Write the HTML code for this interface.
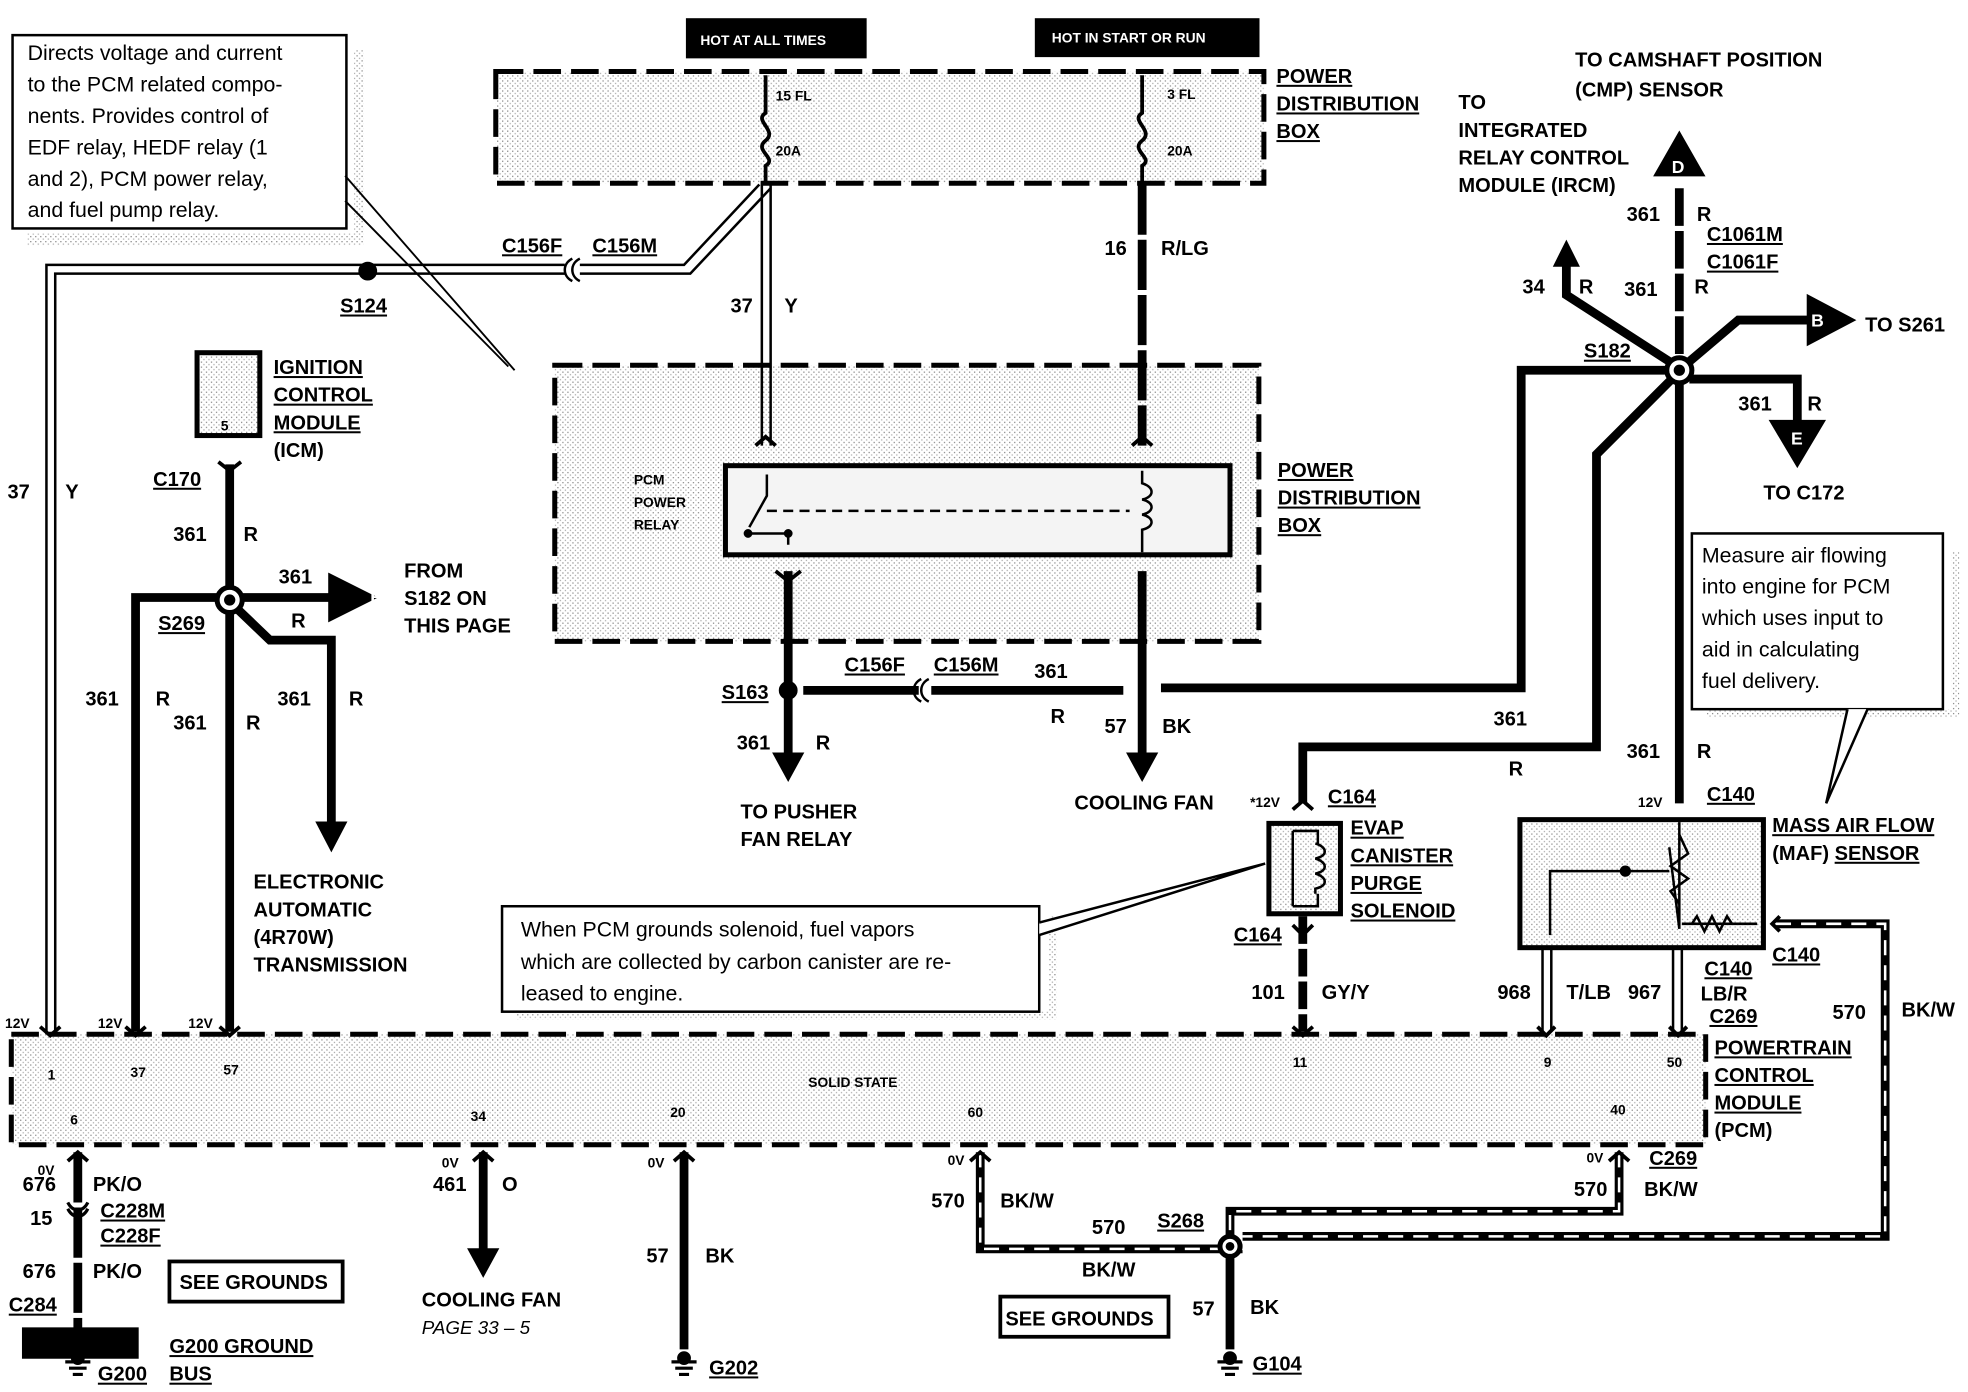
<!DOCTYPE html>
<html><head><meta charset="utf-8"><style>
html,body{margin:0;padding:0;background:#fff}
svg{display:block}
text{font-family:"Liberation Sans",Arial,sans-serif;font-weight:bold;fill:#000}
.l{font-size:16px}
.s{font-size:11px}
.n{font-weight:normal;font-size:17px}
.u{text-decoration:underline}
</style></head><body>
<svg width="1968" height="1392" viewBox="0 0 1568 1109" preserveAspectRatio="none" xmlns="http://www.w3.org/2000/svg">
<defs>
<pattern id="dot" width="4" height="4" patternUnits="userSpaceOnUse"><rect width="4" height="4" fill="#fff"/><rect width="1" height="1" fill="#888"/><rect x="2" y="2" width="1" height="1" fill="#aaa"/></pattern>
</defs>
<g fill="none" stroke="#000">
<path d="M22,186 L282,186 L282,40 L290,40 L290,196 L22,196Z" fill="url(#dot)" stroke="none"/>
<rect x="10" y="28" width="266" height="154" fill="#fff" stroke-width="2"/>
<path d="M275,140 L410,295 M275,160 L405,292" stroke-width="1.5"/>
<rect x="547" y="15" width="143" height="31" fill="#000"/>
<rect x="825" y="15" width="178" height="30" fill="#000"/>
<rect x="395" y="57" width="612" height="89" fill="url(#dot)" stroke-width="4" stroke-dasharray="22,8"/>
<rect x="442" y="291" width="561" height="220" fill="url(#dot)" stroke-width="4" stroke-dasharray="22,8"/>
<rect x="578" y="371" width="402" height="71" fill="#f4f4f4" stroke-width="4"/>
<path d="M610,60 L610,90 C600,96 620,104 610,112 C600,120 620,126 610,132 L610,147" stroke-width="3"/>
<path d="M910,60 L910,90 C900,96 920,104 910,112 C900,120 920,126 910,132 L910,147" stroke-width="3"/>
<path d="M607,147 L607,355 M614,147 L614,355" stroke-width="2"/>
<path d="M605,147 L545,211 L462,211 M614,150 L550,218 L462,218" stroke-width="2"/>
<path d="M450,211 L37,211 L37,825 M450,218 L44,218 L44,825" stroke-width="2"/>
<path d="M462,206 C454,210 454,220 462,224 M456,206 C448,210 448,220 456,224" stroke-width="2"/>
<circle cx="293" cy="216" r="7" fill="#000"/>
<path d="M910,147 L910,355" stroke-width="7" stroke-dasharray="40,4"/>
<path d="M602,355 L610,348 L618,355 M902,355 L910,348 L918,355" stroke-width="3"/>
<path d="M611,378 L611,395 L597,420 M596,425 L628,425 L628,434" stroke-width="2"/>
<path d="M611,407 L900,407" stroke-width="2" stroke-dasharray="8,5"/>
<path d="M910,375 L910,385 C920,388 920,396 910,398 C920,400 920,408 910,410 C920,412 920,420 910,422 L910,440" stroke-width="2"/>
<circle cx="596" cy="425" r="3" fill="#000"/><circle cx="628" cy="425" r="3" fill="#000"/>
<path d="M628,455 L628,605" stroke-width="7"/>
<path d="M618,455 L628,463 L638,455" stroke-width="3"/>
<path d="M616,600 L628,622 L640,600Z" fill="#000"/>
<path d="M910,455 L910,605" stroke-width="7"/>
<path d="M898,600 L910,622 L922,600Z" fill="#000"/>
<circle cx="628" cy="550" r="7" fill="#000"/>
<path d="M640,550 L732,550 M742,550 L895,550" stroke-width="7"/>
<path d="M740,541 C732,545 732,555 740,559 M734,541 C726,545 726,555 734,559" stroke-width="2"/>
<path d="M925,548 L1212,548 L1212,295 L1338,295" stroke-width="7"/>
<circle cx="1338" cy="295" r="10" fill="#fff" stroke-width="4"/>
<circle cx="1338" cy="295" r="4" fill="#000"/>
<path d="M1338,150 L1338,285" stroke-width="7" stroke-dasharray="30,4"/>
<path d="M1330,288 L1248,235 L1248,205" stroke-width="7"/>
<path d="M1238,212 L1248,192 L1258,212Z" fill="#000"/>
<path d="M1346,288 L1385,255 L1440,255" stroke-width="7"/>
<path d="M1346,302 L1432,302 L1432,335" stroke-width="7"/>
<path d="M1332,302 L1272,362 L1272,595 L1038,595 L1038,640" stroke-width="7"/>
<path d="M1338,305 L1338,640" stroke-width="7"/>
<path d="M1318,140 L1338,105 L1358,140Z" fill="#000"/>
<path d="M1440,235 L1478,255 L1440,275Z" fill="#000"/>
<path d="M1410,335 L1432,372 L1454,335Z" fill="#000"/>
<path d="M1360,565 L1555,565 L1555,440 L1561,440 L1561,572 L1360,572Z" fill="url(#dot)" stroke="none"/>
<rect x="1348" y="425" width="200" height="140" fill="#fff" stroke-width="2"/>
<path d="M1488,565 L1455,640 L1472,565" fill="#fff" stroke-width="2"/>
<rect x="1011" y="656" width="57" height="72" fill="url(#dot)" stroke-width="4"/>
<path d="M1030,662 L1030,722 M1030,662 L1050,662 L1050,672 M1050,712 L1050,722 L1030,722" stroke-width="2"/>
<path d="M1048,672 C1058,675 1058,682 1048,684 C1058,687 1058,694 1048,696 C1058,699 1058,706 1048,708 L1048,712" stroke-width="2"/>
<path d="M1030,645 L1038,638 L1046,645" stroke-width="3"/>
<path d="M1038,730 L1038,822" stroke-width="7" stroke-dasharray="22,4"/>
<path d="M1030,737 L1038,745 L1046,737" stroke-width="3"/>
<path d="M412,806 L836,806 L836,730 L842,730 L842,812 L412,812Z" fill="url(#dot)" stroke="none"/>
<rect x="400" y="722" width="428" height="84" fill="#fff" stroke-width="2"/>
<path d="M828,735 L1008,688 L828,745" fill="#fff" stroke-width="2"/>
<rect x="1211" y="653" width="194" height="102" fill="url(#dot)" stroke-width="4"/>
<path d="M1338,655 L1338,740 M1330,675 L1338,740" stroke-width="2"/>
<path d="M1338,665 L1345,680 L1331,690 L1345,700 L1331,710 L1338,720" stroke-width="2"/>
<path d="M1295,694 L1330,694 M1295,694 L1235,694 L1235,745 M1340,736 L1382,736 L1400,736" stroke-width="2"/>
<circle cx="1295" cy="694" r="4" fill="#000"/>
<path d="M1348,736 L1352,730 L1358,742 L1364,730 L1370,742 L1376,730 L1380,736" stroke-width="2"/>
<path d="M1229,756 L1229,822 M1236,756 L1236,822 M1333,756 L1333,822 M1340,756 L1340,822" stroke-width="2"/>
<path d="M1415,736 L1502,736 L1502,985 L990,985" stroke-width="7"/>
<path d="M1415,736 L1502,736 L1502,985 L990,985" stroke="#fff" stroke-width="2" stroke-dasharray="12,8"/>
<path d="M1418,730 L1412,736 L1418,742" stroke-width="3"/>
<rect x="157" y="281" width="50" height="66" fill="url(#dot)" stroke-width="4"/>
<path d="M183,370 L183,822" stroke-width="7"/>
<path d="M174,368 L183,375 L192,368" stroke-width="3"/>
<circle cx="183" cy="478" r="10" fill="#fff" stroke-width="4"/><circle cx="183" cy="478" r="4" fill="#000"/>
<path d="M173,476 L108,476 L108,822" stroke-width="7"/>
<path d="M193,476 L262,476" stroke-width="7"/>
<path d="M262,457 L300,476 L262,495Z" fill="#000"/>
<path d="M190,486 L215,510 L264,510 L264,660" stroke-width="7"/>
<path d="M252,655 L264,678 L276,655Z" fill="#000"/>
<rect x="9" y="824" width="1350" height="88" fill="url(#dot)" stroke-width="4" stroke-dasharray="22,8"/>
<path d="M32,818 L40,825 L48,818 M100,818 L108,825 L116,818 M175,818 L183,825 L191,818 M1030,818 L1038,825 L1046,818 M1225,818 L1232,825 L1239,818 M1330,818 L1337,825 L1344,818" stroke-width="3"/>
<path d="M62,918 L62,1050" stroke-width="7" stroke-dasharray="40,4"/>
<path d="M54,958 C58,966 66,966 70,958 M54,963 C58,971 66,971 70,963" stroke-width="2.5"/>
<rect x="18" y="1058" width="92" height="24" fill="#000"/>
<path d="M62,1050 L62,1060" stroke-width="7"/>
<path d="M385,918 L385,1000" stroke-width="7"/>
<path d="M373,995 L385,1017 L397,995Z" fill="#000"/>
<path d="M545,918 L545,1075" stroke-width="7"/>
<path d="M781,918 L781,995 L990,995 M1290,918 L1290,965 L990,965 L980,965 L980,1075" stroke-width="7"/>
<path d="M781,918 L781,995 L990,995 M1290,918 L1290,965 L980,965 L980,985" stroke="#fff" stroke-width="2" stroke-dasharray="12,8"/>
<circle cx="980" cy="993" r="8" fill="#fff" stroke-width="4"/><circle cx="980" cy="993" r="3" fill="#000"/>
<path d="M773,925 L781,918 L789,925 M1282,925 L1290,918 L1298,925 M54,925 L62,918 L70,925 M377,925 L385,918 L393,925 M537,925 L545,918 L553,925" stroke-width="3"/>
<g stroke-width="2.5">
<path d="M52,1085 L72,1085 M55,1090 L69,1090 M58,1095 L66,1095 M535,1085 L555,1085 M538,1090 L552,1090 M541,1095 L549,1095 M970,1085 L990,1085 M973,1090 L987,1090 M976,1095 L984,1095"/>
</g>
<circle cx="62" cy="1082" r="5" fill="#000"/><circle cx="545" cy="1082" r="5" fill="#000"/><circle cx="980" cy="1082" r="5" fill="#000"/>
<rect x="135" y="1005" width="138" height="32" fill="#fff" stroke-width="3"/>
<rect x="797" y="1033" width="134" height="32" fill="#fff" stroke-width="3"/>
</g>
<g class="n">
<text x="22" y="48" class="n">Directs voltage and current</text>
<text x="22" y="73" class="n">to the PCM related compo-</text>
<text x="22" y="98" class="n">nents. Provides control of</text>
<text x="22" y="123" class="n">EDF relay, HEDF relay (1</text>
<text x="22" y="148" class="n">and 2), PCM power relay,</text>
<text x="22" y="173" class="n">and fuel pump relay.</text>
<text x="1356" y="448" class="n">Measure air flowing</text>
<text x="1356" y="473" class="n">into engine for PCM</text>
<text x="1356" y="498" class="n">which uses input to</text>
<text x="1356" y="523" class="n">aid  in calculating</text>
<text x="1356" y="548" class="n">fuel  delivery.</text>
<text x="415" y="746" class="n">When PCM grounds solenoid, fuel vapors</text>
<text x="415" y="772" class="n">which are collected by carbon canister are re-</text>
<text x="415" y="797" class="n">leased to engine.</text>
</g>
<text x="558" y="36" class="s" style="fill:#fff">HOT AT ALL TIMES</text>
<text x="838" y="34" class="s" style="fill:#fff">HOT IN START OR RUN</text>
<g class="l">
<text x="1017" y="66" class="l u">POWER</text><text x="1017" y="88" class="l u">DISTRIBUTION</text><text x="1017" y="110" class="l u">BOX</text>
<text x="1018" y="380" class="l u">POWER</text><text x="1018" y="402" class="l u">DISTRIBUTION</text><text x="1018" y="424" class="l u">BOX</text>
<text x="1255" y="53" class="l">TO CAMSHAFT POSITION</text><text x="1255" y="77" class="l">(CMP) SENSOR</text>
<text x="1162" y="87" class="l">TO</text><text x="1162" y="109" class="l">INTEGRATED</text><text x="1162" y="131" class="l">RELAY CONTROL</text><text x="1162" y="153" class="l">MODULE (IRCM)</text>
<text x="1296" y="176" class="l">361</text><text x="1352" y="176" class="l">R</text>
<text x="1360" y="192" class="l u">C1061M</text><text x="1360" y="214" class="l u">C1061F</text>
<text x="1213" y="234" class="l">34</text><text x="1258" y="234" class="l">R</text><text x="1294" y="236" class="l">361</text><text x="1350" y="234" class="l">R</text>
<text x="1486" y="264" class="l">TO S261</text>
<text x="1262" y="285" class="l u">S182</text>
<text x="1385" y="327" class="l">361</text><text x="1440" y="327" class="l">R</text>
<text x="1405" y="398" class="l">TO C172</text>
<text x="400" y="201" class="l u">C156F</text><text x="472" y="201" class="l u">C156M</text>
<text x="271" y="249" class="l u">S124</text>
<text x="582" y="249" class="l">37</text><text x="625" y="249" class="l">Y</text>
<text x="880" y="203" class="l">16</text><text x="925" y="203" class="l">R/LG</text>
<text x="218" y="298" class="l u">IGNITION</text><text x="218" y="320" class="l u">CONTROL</text><text x="218" y="342" class="l u">MODULE</text><text x="218" y="364" class="l">(ICM)</text>
<text x="122" y="387" class="l u">C170</text>
<text x="6" y="397" class="l">37</text><text x="52" y="397" class="l">Y</text>
<text x="138" y="431" class="l">361</text><text x="194" y="431" class="l">R</text>
<text x="222" y="465" class="l">361</text><text x="322" y="460" class="l">FROM</text><text x="322" y="482" class="l">S182 ON</text><text x="322" y="504" class="l">THIS PAGE</text>
<text x="126" y="502" class="l u">S269</text><text x="232" y="500" class="l">R</text>
<text x="68" y="562" class="l">361</text><text x="124" y="562" class="l">R</text>
<text x="138" y="581" class="l">361</text><text x="196" y="581" class="l">R</text>
<text x="221" y="562" class="l">361</text><text x="278" y="562" class="l">R</text>
<text x="202" y="708" class="l">ELECTRONIC</text><text x="202" y="730" class="l">AUTOMATIC</text><text x="202" y="752" class="l">(4R70W)</text><text x="202" y="774" class="l">TRANSMISSION</text>
<text x="673" y="535" class="l u">C156F</text><text x="744" y="535" class="l u">C156M</text><text x="824" y="540" class="l">361</text>
<text x="575" y="557" class="l u">S163</text><text x="837" y="576" class="l">R</text>
<text x="587" y="597" class="l">361</text><text x="650" y="597" class="l">R</text>
<text x="880" y="584" class="l">57</text><text x="926" y="584" class="l">BK</text>
<text x="590" y="652" class="l">TO PUSHER</text><text x="590" y="674" class="l">FAN RELAY</text>
<text x="856" y="645" class="l">COOLING FAN</text>
<text x="1190" y="578" class="l">361</text><text x="1202" y="618" class="l">R</text>
<text x="1296" y="604" class="l">361</text><text x="1352" y="604" class="l">R</text>
<text x="1058" y="640" class="l u">C164</text><text x="1360" y="638" class="l u">C140</text>
<text x="1076" y="665" class="l u">EVAP</text><text x="1076" y="687" class="l u">CANISTER</text><text x="1076" y="709" class="l u">PURGE</text><text x="1076" y="731" class="l u">SOLENOID</text>
<text x="1412" y="663" class="l u">MASS AIR FLOW</text><text x="1412" y="685" class="l">(MAF) <tspan class="u">SENSOR</tspan></text>
<text x="983" y="750" class="l u">C164</text>
<text x="1412" y="766" class="l u">C140</text>
<text x="1358" y="777" class="l u">C140</text><text x="1355" y="797" class="l">LB/R</text><text x="1362" y="815" class="l u">C269</text>
<text x="997" y="796" class="l">101</text><text x="1053" y="796" class="l">GY/Y</text>
<text x="1193" y="796" class="l">968</text><text x="1248" y="796" class="l">T/LB</text><text x="1297" y="796" class="l">967</text>
<text x="1460" y="812" class="l">570</text><text x="1515" y="810" class="l">BK/W</text>
<text x="1366" y="840" class="l u">POWERTRAIN</text><text x="1366" y="862" class="l u">CONTROL</text><text x="1366" y="884" class="l u">MODULE</text><text x="1366" y="906" class="l">(PCM)</text>
<text x="18" y="949" class="l">676</text><text x="74" y="949" class="l">PK/O</text>
<text x="80" y="970" class="l u">C228M</text><text x="24" y="976" class="l">15</text><text x="80" y="990" class="l u">C228F</text>
<text x="18" y="1018" class="l">676</text><text x="74" y="1018" class="l">PK/O</text>
<text x="7" y="1045" class="l u">C284</text>
<text x="143" y="1027" class="l">SEE GROUNDS</text>
<text x="135" y="1078" class="l u">G200 GROUND</text><text x="135" y="1100" class="l u">BUS</text><text x="78" y="1100" class="l u">G200</text>
<text x="345" y="949" class="l">461</text><text x="400" y="949" class="l">O</text>
<text x="336" y="1041" class="l">COOLING FAN</text>
<text x="336" y="1063" class="l" style="font-weight:normal;font-style:italic;font-size:15px">PAGE 33 – 5</text>
<text x="515" y="1006" class="l">57</text><text x="562" y="1006" class="l">BK</text>
<text x="565" y="1095" class="l u">G202</text>
<text x="742" y="962" class="l">570</text><text x="797" y="962" class="l">BK/W</text>
<text x="870" y="983" class="l">570</text><text x="922" y="978" class="l u">S268</text>
<text x="862" y="1017" class="l">BK/W</text>
<text x="1254" y="953" class="l">570</text><text x="1310" y="953" class="l">BK/W</text>
<text x="1314" y="928" class="l u">C269</text>
<text x="950" y="1048" class="l">57</text><text x="996" y="1047" class="l">BK</text>
<text x="801" y="1056" class="l">SEE GROUNDS</text>
<text x="998" y="1092" class="l u">G104</text>
</g>
<g class="s">
<text x="618" y="80" class="s">15 FL</text><text x="618" y="124" class="s">20A</text>
<text x="930" y="79" class="s">3 FL</text><text x="930" y="124" class="s">20A</text>
<text x="505" y="386" class="s">PCM</text><text x="505" y="404" class="s">POWER</text><text x="505" y="422" class="s">RELAY</text>
<text x="176" y="343" class="s">5</text>
<text x="4" y="819" class="s">12V</text><text x="78" y="819" class="s">12V</text><text x="150" y="819" class="s">12V</text>
<text x="996" y="643" class="s">*12V</text><text x="1305" y="643" class="s">12V</text>
<text x="38" y="860" class="s">1</text><text x="104" y="858" class="s">37</text><text x="178" y="856" class="s">57</text>
<text x="644" y="866" class="s">SOLID STATE</text>
<text x="1030" y="850" class="s">11</text><text x="1230" y="850" class="s">9</text><text x="1328" y="850" class="s">50</text>
<text x="56" y="896" class="s">6</text><text x="375" y="893" class="s">34</text><text x="534" y="890" class="s">20</text><text x="771" y="890" class="s">60</text><text x="1283" y="888" class="s">40</text>
<text x="30" y="936" class="s">0V</text><text x="352" y="930" class="s">0V</text><text x="516" y="930" class="s">0V</text><text x="755" y="928" class="s">0V</text><text x="1264" y="926" class="s">0V</text>
<text x="1332" y="138" class="s" style="fill:#fff;font-size:14px">D</text>
<text x="1443" y="260" class="s" style="fill:#fff;font-size:14px">B</text>
<text x="1427" y="354" class="s" style="fill:#fff;font-size:14px">E</text>
<text x="295" y="481" class="s" style="fill:#fff;font-size:14px">B</text>
</g>
</svg>
</body></html>
